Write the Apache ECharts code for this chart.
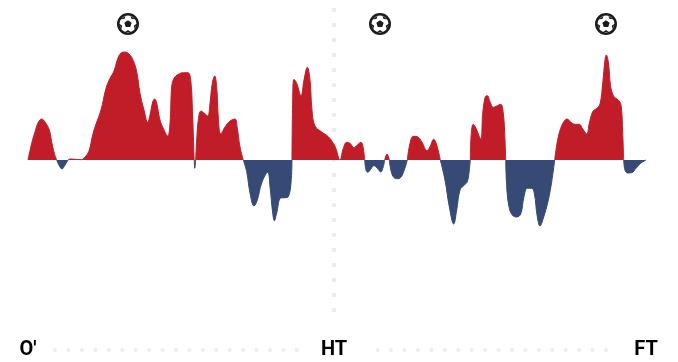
<!DOCTYPE html>
<html><head><meta charset="utf-8">
<style>html,body{margin:0;padding:0;background:#fff}#c{width:678px;height:362px}</style>
<script src="https://cdn.jsdelivr.net/npm/echarts@6/dist/echarts.min.js"></script>
</head><body><div id="c"></div>
<script>
// [match clock, momentum] readings; kick-off = 28, half time = 334, full time = 646 on the clock axis
const firstHalf = [[28,0],[31.7,16.7],[35,28],[38.3,37.7],[41.7,41],[45,38],[49.3,30],[51.7,18],[54.3,6.7],[56.7,0],[59.3,-5.7],[62,-9],[65,-5],[68,0],[70,1],[75,0.7],[81.7,0.3],[82.7,1],[86,4],[89.3,10],[92.7,25],[95.7,35],[101,50],[106,71.7],[110,81.7],[114,89],[117.3,100],[120.7,106.7],[124.7,108],[129.3,105.7],[133.3,99.3],[136.7,88.3],[140,66.7],[144,50],[147.7,37.7],[150,45],[152.7,58],[154.7,61],[156.7,56.7],[160,40],[163.3,31.7],[167.7,24],[170,36.7],[171.7,73],[174,81.7],[178.3,85.7],[183.3,87.3],[188,87.3],[190.7,80],[192.7,43],[194,3.3],[194.3,0],[194.7,-8.3],[195.7,0],[196.7,20],[198.3,40],[201,49],[204.3,46.7],[207.7,44],[210,56.7],[212.3,76.7],[214.7,84],[216.7,73],[218.3,43],[220.7,26],[225,33],[230,39],[235,41],[237.3,31.7],[240,13],[243.3,0],[246.7,-11.7],[250,-33],[254,-46],[257.3,-40],[261.7,-23],[267.7,-12.3],[270,-26.7],[272.7,-53],[274.3,-60.7],[276.7,-53],[280.7,-38],[285,-37.7],[288.3,-36.7],[291,-23],[292,0],[292.7,60],[294,80.7],[296.7,76.7],[301,64.3],[304,80],[307.3,92.7],[310,80],[312,50],[315,34],[321.7,28],[328.3,23.3],[333.3,16.7],[336,11],[340,0]];
const secondHalf = [[343.3,11.7],[346.7,17.7],[350,16.7],[354,12.3],[357.3,15],[361,17.7],[363,13],[364.7,0],[366,-10],[367.7,-12.3],[370.7,-9.3],[373.7,-5.7],[377.3,-8.3],[380.7,-12],[383.3,-6.7],[384.7,0],[387,6],[389.3,0],[391.7,-13.3],[395,-18.3],[398.3,-18.7],[402.3,-15],[407.3,0],[410,16.7],[413.3,23.7],[417.3,23.3],[421.7,18.3],[427,9.3],[430,13.3],[433.7,20.7],[436.7,15],[440.3,0],[445,-20],[449.3,-46.7],[453.7,-64],[456.7,-50],[460,-30],[464,-25.3],[467.3,-21.7],[469.3,-10],[470.3,0],[471.3,26.7],[473.3,35.7],[476,31.7],[480.7,21],[482.7,46.7],[485.3,63.3],[487.3,64.3],[490,58.3],[493.3,52.7],[496.7,54],[500.7,55.7],[503.3,46.7],[505,20],[505.7,0],[506.7,-26.7],[509,-46.7],[512.3,-55],[516.7,-57],[520.7,-54],[524,-36.7],[527.3,-28.3],[531.7,-28.3],[534.3,-33.3],[537.3,-56.7],[540,-66],[543.3,-58.3],[548.3,-40],[551.7,-21.7],[554.7,0],[557.3,18.3],[560.7,31.7],[564.3,39],[567,41],[570.7,38],[575,35.7],[579.3,35.7],[582.3,31.7],[586.7,26],[589.3,36.7],[592.7,48.3],[596.7,51.7],[600,56],[602.7,76.7],[605,100],[606.3,105],[608.3,98.3],[610.7,73.3],[614,63.3],[618.3,60],[621,55],[622.7,26.7],[623.7,0],[625,-10],[627.7,-13],[631.7,-12.7],[636,-8.3],[640.7,-3.3],[646,0]];
const goalClock = [128,380,606];
const goalRow = 136;
const labelClock = [28,334,646];
const labelText = ["O'","HT","FT"];
const labelRow = -190;
const halfClock = 334;
const halfRows = [150,135,120,105,90,75,60,45,30,15,0,-15,-30,-45,-60,-75,-90,-105,-120,-135,-150];
const footDots = [55,68.4,81.9,95.3,108.8,122.2,135.6,149.1,162.5,176,189.4,202.8,216.3,229.7,243.2,256.6,270,283.5,296.9,377.6,391,404.4,417.9,431.3,444.8,458.2,471.6,485.1,498.5,512,525.4,538.8,552.3,565.7,579.2,592.6,606];

const points = firstHalf.concat(secondHalf);
// one lobe series per sign: a point is kept when it, or a neighbour, lies on that side
function side(sign){
  return points.map((p,i)=>{
    const v=p[1]*sign, a=(i>0?points[i-1][1]:0)*sign, b=(i<points.length-1?points[i+1][1]:0)*sign;
    return [p[0],(v>0||a>0||b>0)?Math.max(v,0)*sign:null];
  });
}
function ballPath(){
  const p = (r,a)=>{const t=a*Math.PI/180;return (12+r*Math.cos(t)).toFixed(2)+' '+(12+r*Math.sin(t)).toFixed(2);};
  let d = 'M0 12A12 12 0 1 1 24 12A12 12 0 1 1 0 12Z M2.8 12A9.2 9.2 0 1 0 21.2 12A9.2 9.2 0 1 0 2.8 12Z';
  d += 'M'+[0,1,2,3,4].map(i=>p(4.2,-90+72*i)).join('L')+'Z';
  for(let i=0;i<5;i++){const a=-54+72*i;
    d += 'M'+p(9.4,a-20)+'L'+p(9.4,a+20)+'L'+p(6.6,a)+'Z';}
  return 'path://'+d;
}
const lobe = (data,color)=>({type:'line',data,showSymbol:false,symbol:'none',smooth:0.4,connectNulls:false,
  lineStyle:{width:1,color},itemStyle:{color},areaStyle:{opacity:1,color},z:3,silent:true});
const chart = echarts.init(document.getElementById('c'),null,{renderer:'canvas'});
chart.setOption({
  animation:false,
  backgroundColor:'#fff',
  grid:{left:28,right:32,top:0,bottom:2},
  xAxis:{type:'value',min:28,max:646,show:false},
  yAxis:{type:'value',min:-200,max:160,show:false},
  series:[
    lobe(side(1),'#c11d28'),
    lobe(side(-1),'#364a75'),
    {type:'scatter',data:halfRows.map(r=>[halfClock,r]),symbol:'roundRect',symbolSize:4,itemStyle:{color:'#ebebeb',opacity:1},z:1,silent:true},
    {type:'scatter',data:footDots.map(c=>[c,labelRow]),symbol:'circle',symbolSize:4,itemStyle:{color:'#eeeeee',opacity:1},z:1,silent:true},
    {type:'scatter',data:goalClock.map(c=>[c,goalRow]),symbol:ballPath(),symbolSize:22,itemStyle:{color:'#1c1c1c',opacity:1},z:4,silent:true},
    {type:'scatter',data:labelClock.map((c,i)=>({value:[c,labelRow],name:labelText[i]})),symbolSize:0,itemStyle:{opacity:1},z:5,silent:true,
      label:{show:true,position:'inside',formatter:'{b}',color:'#000',opacity:1,fontSize:20,fontWeight:'bold',fontFamily:'Roboto,"Liberation Sans",sans-serif'}}
  ]
});
</script></body></html>
